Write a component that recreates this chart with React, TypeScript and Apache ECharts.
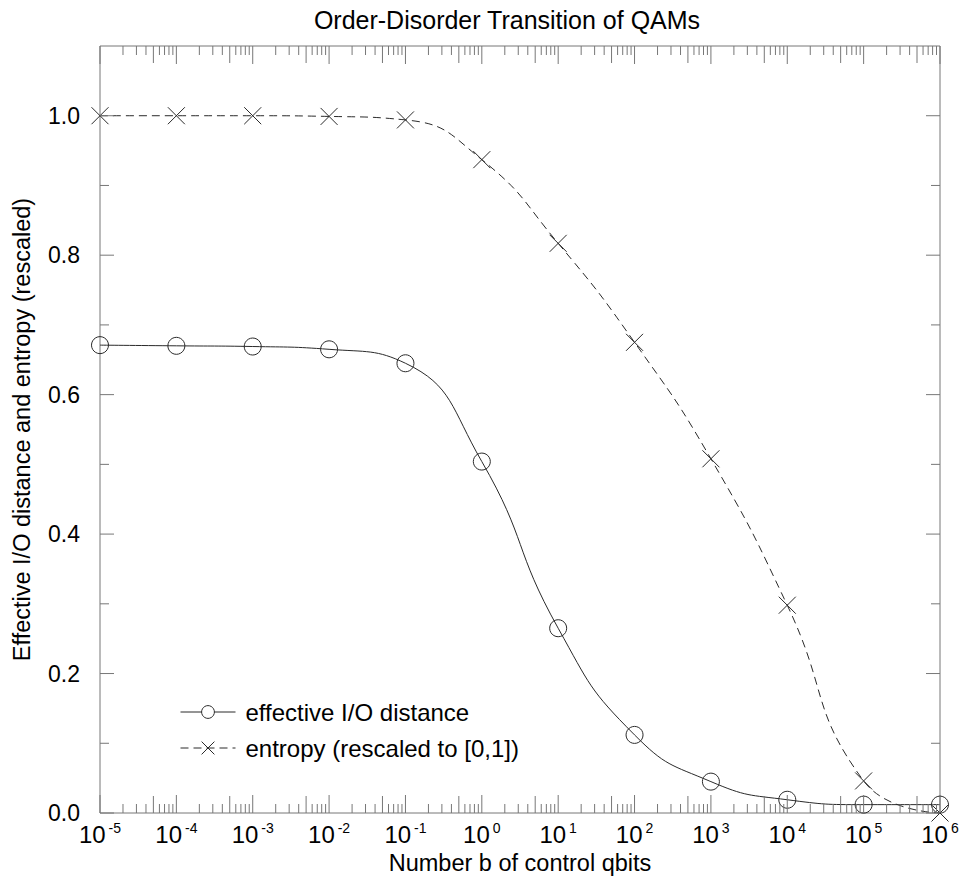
import React, { useEffect, useRef } from "react";
import * as echarts from "echarts";

const qbits = [1e-5, 1e-4, 1e-3, 1e-2, 1e-1, 1, 1e1, 1e2, 1e3, 1e4, 1e5, 1e6];
const ioDistance = [0.671, 0.67, 0.669, 0.665, 0.645, 0.504, 0.265, 0.112, 0.045, 0.019, 0.012, 0.012];
const entropy = [1.0, 1.0, 1.0, 0.999, 0.994, 0.937, 0.817, 0.675, 0.508, 0.298, 0.046, 0.0];
const xExponents = [-5, -4, -3, -2, -1, 0, 1, 2, 3, 4, 5, 6];
const yMajorTicks = [0, 0.2, 0.4, 0.6, 0.8, 1.0];
const yMinorTicks = [0.1, 0.3, 0.5, 0.7, 0.9];
const minorMultipliers = [2, 3, 4, 5, 6, 7, 8, 9];

const FONT = "'Liberation Sans', Arial, sans-serif";
const AXIS_COLOR = "#777";
const LINE_COLOR = "#2a2a2a";
const X_MIN = 1e-5;
const X_MAX = 1e6;
const Y_MIN = 0;
const Y_MAX = 1.1;

export default function App() {
  const ref = useRef<HTMLDivElement>(null);
  useEffect(() => {
    if (!ref.current) return;
    const chart = echarts.init(ref.current, undefined, { renderer: "svg" });

    const xMajorVals = xExponents.map((e) => Math.pow(10, e));
    const xTickData: number[][] = [];
    xMajorVals.forEach((v) => xTickData.push([v, 0, 18]));
    xMajorVals.slice(0, -1).forEach((v) =>
      minorMultipliers.forEach((m) => xTickData.push([v * m, 0, m === 5 ? 17 : 9]))
    );
    const yTickData: number[][] = [
      ...yMajorTicks.map((v) => [X_MIN, v, 14]),
      ...yMinorTicks.map((v) => [X_MIN, v, 9]),
    ];

    const tickStyle = { stroke: AXIS_COLOR, lineWidth: 1 };

    chart.setOption({
      animation: false,
      backgroundColor: "#fff",
      title: {
        text: "Order-Disorder Transition of QAMs",
        left: 502,
        textAlign: "center",
        top: 2,
        textStyle: { fontSize: 25, fontWeight: "normal", color: "#000", fontFamily: FONT },
      },
      grid: {
        left: 100,
        right: 33,
        top: 46,
        bottom: 65,
        show: true,
        borderColor: AXIS_COLOR,
        borderWidth: 1,
        backgroundColor: "transparent",
      },
      legend: {
        orient: "vertical",
        left: 175,
        top: 695,
        itemWidth: 55,
        itemHeight: 16,
        itemGap: 12,
        textStyle: { fontSize: 24, color: "#000", fontFamily: FONT, padding: [0, 0, 0, 5] },
        itemStyle: { borderWidth: 1 },
        lineStyle: { width: 1 },
        data: [
          { name: "effective I/O distance", itemStyle: { color: "#fff", borderColor: LINE_COLOR, borderWidth: 1 } },
          { name: "entropy (rescaled to [0,1])" },
        ],
      },
      xAxis: {
        type: "log",
        logBase: 10,
        min: X_MIN,
        max: X_MAX,
        splitNumber: 11,
        name: "Number b of control qbits",
        nameLocation: "middle",
        nameGap: 38,
        nameTextStyle: { fontSize: 23.5, color: "#000", fontFamily: FONT },
        axisLine: { show: false },
        axisTick: { show: false },
        splitLine: { show: false },
        axisLabel: {
          customValues: xMajorVals,
          margin: 8,
          formatter: (v: number) => {
            const e = Math.round(Math.log10(v));
            return `{b|10}{e|${e}}`;
          },
          rich: {
            b: { fontSize: 24, color: "#000", fontFamily: FONT },
            e: { fontSize: 14, color: "#000", fontFamily: FONT, padding: [0, 0, 12, 3] },
          },
        },
      },
      yAxis: {
        type: "value",
        min: Y_MIN,
        max: Y_MAX,
        interval: 0.2,
        name: "Effective I/O distance and entropy (rescaled)",
        nameLocation: "middle",
        nameGap: 66,
        nameTextStyle: { fontSize: 23.5, color: "#000", fontFamily: FONT },
        axisLine: { show: false },
        axisTick: { show: false },
        splitLine: { show: false },
        axisLabel: {
          margin: 20,
          fontSize: 23,
          color: "#000",
          fontFamily: FONT,
          formatter: (v: number) => (v > 1.05 ? "" : v.toFixed(1)),
        },
      },
      series: [
        {
          name: "effective I/O distance",
          type: "line",
          data: qbits.map((x, i) => [x, ioDistance[i]]),
          smooth: 0.5,
          symbol: "circle",
          symbolSize: 17,
          itemStyle: { color: "transparent", borderColor: LINE_COLOR, borderWidth: 1 },
          lineStyle: { color: LINE_COLOR, width: 1 },
          z: 3,
        },
        {
          name: "entropy (rescaled to [0,1])",
          type: "line",
          data: qbits.map((x, i) => [x, entropy[i]]),
          smooth: 0.5,
          symbol: "path://M0,0L20,20M20,0L0,20",
          symbolSize: 17,
          itemStyle: { color: "transparent", borderColor: LINE_COLOR, borderWidth: 1 },
          lineStyle: { color: LINE_COLOR, width: 1, type: [8, 5] },
          z: 3,
        },
        {
          name: "xticks",
          type: "custom",
          silent: true,
          clip: false,
          z: 4,
          data: xTickData,
          renderItem: (params: any, api: any) => {
            const v = api.value(0);
            const len = api.value(2);
            const b = api.coord([v, Y_MIN]);
            const t = api.coord([v, Y_MAX]);
            return {
              type: "group",
              children: [
                { type: "line", shape: { x1: b[0], y1: b[1], x2: b[0], y2: b[1] - len }, style: tickStyle },
                { type: "line", shape: { x1: t[0], y1: t[1], x2: t[0], y2: t[1] + len }, style: tickStyle },
              ],
            };
          },
        },
        {
          name: "yticks",
          type: "custom",
          silent: true,
          clip: false,
          z: 4,
          data: yTickData,
          renderItem: (params: any, api: any) => {
            const v = api.value(1);
            const len = api.value(2);
            const l = api.coord([X_MIN, v]);
            const r = api.coord([X_MAX, v]);
            return {
              type: "group",
              children: [
                { type: "line", shape: { x1: l[0], y1: l[1], x2: l[0] + len, y2: l[1] }, style: tickStyle },
                { type: "line", shape: { x1: r[0], y1: r[1], x2: r[0] - len, y2: r[1] }, style: tickStyle },
              ],
            };
          },
        },
      ],
    });
    return () => chart.dispose();
  }, []);
  return (
    <div
      ref={ref}
      style={{ position: "fixed", left: 0, top: 0, width: 973, height: 880, background: "#fff" }}
    />
  );
}
